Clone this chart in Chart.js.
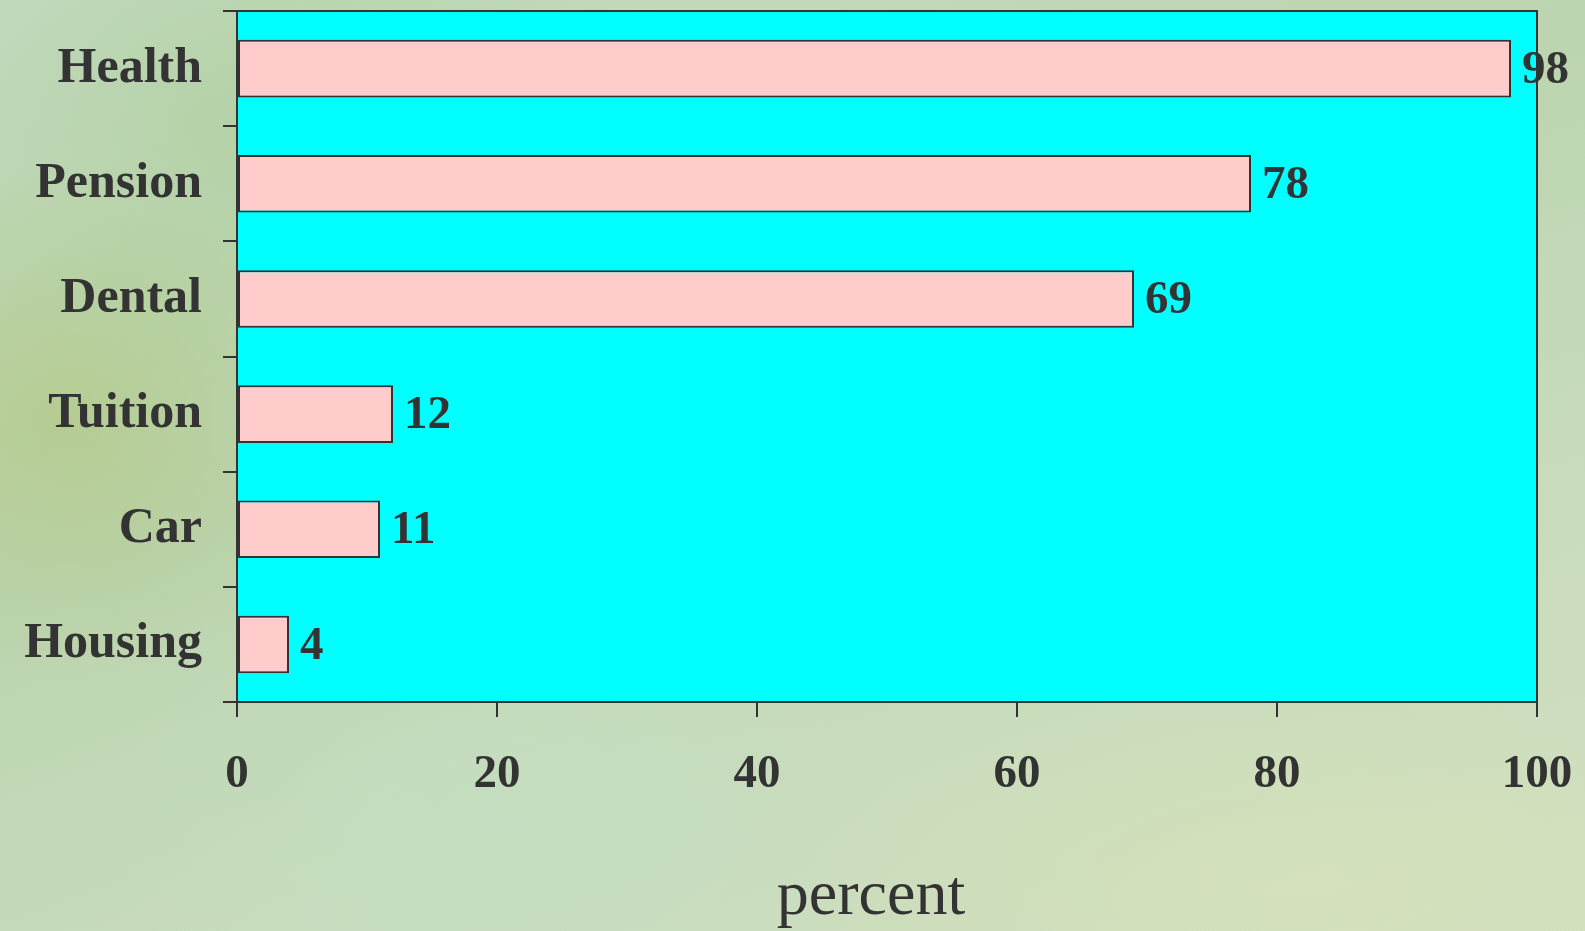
<!DOCTYPE html>
<html>
<head>
<meta charset="utf-8">
<script src="https://cdn.jsdelivr.net/npm/chart.js@4.4.0/dist/chart.umd.min.js"></script>
<style>
  html, body { margin: 0; padding: 0; }
  body {
    width: 1585px; height: 931px; overflow: hidden;
    background:
      radial-gradient(ellipse 300px 260px at 60px 420px, rgba(176, 200, 130, 0.7), rgba(176, 200, 130, 0) 100%),
      radial-gradient(ellipse 420px 300px at 260px 120px, rgba(170, 204, 150, 0.6), rgba(170, 204, 150, 0) 100%),
      radial-gradient(ellipse 500px 200px at 1300px 880px, rgba(214, 226, 184, 0.7), rgba(214, 226, 184, 0) 100%),
      radial-gradient(ellipse 400px 250px at 500px 820px, rgba(196, 222, 196, 0.6), rgba(196, 222, 196, 0) 100%),
      linear-gradient(160deg, #c6dcc4 0%, #bcd4b0 40%, #c8dcbc 70%, #d2dfc0 100%);
  }
  #wrap { position: absolute; left: 0; top: 0; width: 1585px; height: 931px; }
</style>
</head>
<body>
<div id="wrap"><canvas id="benefitsChart"></canvas></div>
<script>
// Benefit categories and share of firms offering them
const categories = ['Health', 'Pension', 'Dental', 'Tuition', 'Car', 'Housing'];
const percentValues = [98, 78, 69, 12, 11, 4];
const xTicks = [0, 20, 40, 60, 80, 100];

const ink = '#333333';
const serif = "'Liberation Serif', 'Times New Roman', serif";

// Cyan plot area with a dark frame
const plotFrame = {
    id: 'plotFrame',
    beforeDatasetsDraw(chart) {
        const { ctx, chartArea: a } = chart;
        ctx.save();
        ctx.fillStyle = '#00ffff';
        ctx.fillRect(a.left, a.top, a.right - a.left, a.bottom - a.top);
        ctx.restore();
    },
    afterDraw(chart) {
        const { ctx, chartArea: a } = chart;
        ctx.save();
        ctx.strokeStyle = ink;
        ctx.lineWidth = 2;
        ctx.strokeRect(a.left, a.top, a.right - a.left, a.bottom - a.top);
        ctx.restore();
    }
};

// Value labels at the end of each bar
const valueLabels = {
    id: 'valueLabels',
    afterDatasetsDraw(chart) {
        const { ctx } = chart;
        const meta = chart.getDatasetMeta(0);
        ctx.save();
        ctx.font = `bold 47px ${serif}`;
        ctx.fillStyle = ink;
        ctx.textAlign = 'left';
        ctx.textBaseline = 'middle';
        meta.data.forEach((bar, i) => {
            ctx.fillText(String(percentValues[i]), bar.x + 11, bar.y + 2);
        });
        ctx.restore();
    }
};

const ctx = document.getElementById('benefitsChart').getContext('2d');

new Chart(ctx, {
    type: 'bar',
    data: {
        labels: categories,
        datasets: [{
            data: percentValues,
            backgroundColor: '#ffcccc',
            borderColor: ink,
            borderWidth: 2,
            borderSkipped: false,
            barPercentage: 0.5,
            categoryPercentage: 1
        }]
    },
    options: {
        indexAxis: 'y',
        responsive: true,
        maintainAspectRatio: false,
        animation: false,
        layout: { padding: { top: 11, right: 48, left: 0, bottom: 0 } },
        plugins: {
            legend: { display: false },
            tooltip: { enabled: false }
        },
        scales: {
            y: {
                afterFit(scale) {
                    scale.width = 237;
                    scale.paddingTop = 0;
                    scale.paddingBottom = 0;
                },
                grid: {
                    offset: true,
                    drawOnChartArea: false,
                    color: ink,
                    lineWidth: 2,
                    tickLength: 14
                },
                border: { display: true, color: ink, width: 2 },
                ticks: {
                    color: ink,
                    padding: 21,
                    font: { family: serif, size: 50, weight: 'bold' }
                }
            },
            x: {
                min: 0,
                max: 100,
                afterFit(scale) {
                    scale.height = 229;
                    scale.paddingLeft = 0;
                    scale.paddingRight = 0;
                },
                afterBuildTicks(scale) {
                    scale.ticks = xTicks.map(v => ({ value: v }));
                },
                grid: {
                    drawOnChartArea: false,
                    color: ink,
                    lineWidth: 2,
                    tickLength: 15
                },
                border: { display: true, color: ink, width: 2 },
                ticks: {
                    color: ink,
                    padding: 30,
                    maxRotation: 0,
                    font: { family: serif, size: 47, weight: 'bold' }
                },
                title: {
                    display: true,
                    text: 'percent  ',
                    color: ink,
                    padding: { top: 0, bottom: -5 },
                    font: { family: serif, size: 64, weight: 'normal' }
                }
            }
        }
    },
    plugins: [plotFrame, valueLabels]
});
</script>
</body>
</html>
